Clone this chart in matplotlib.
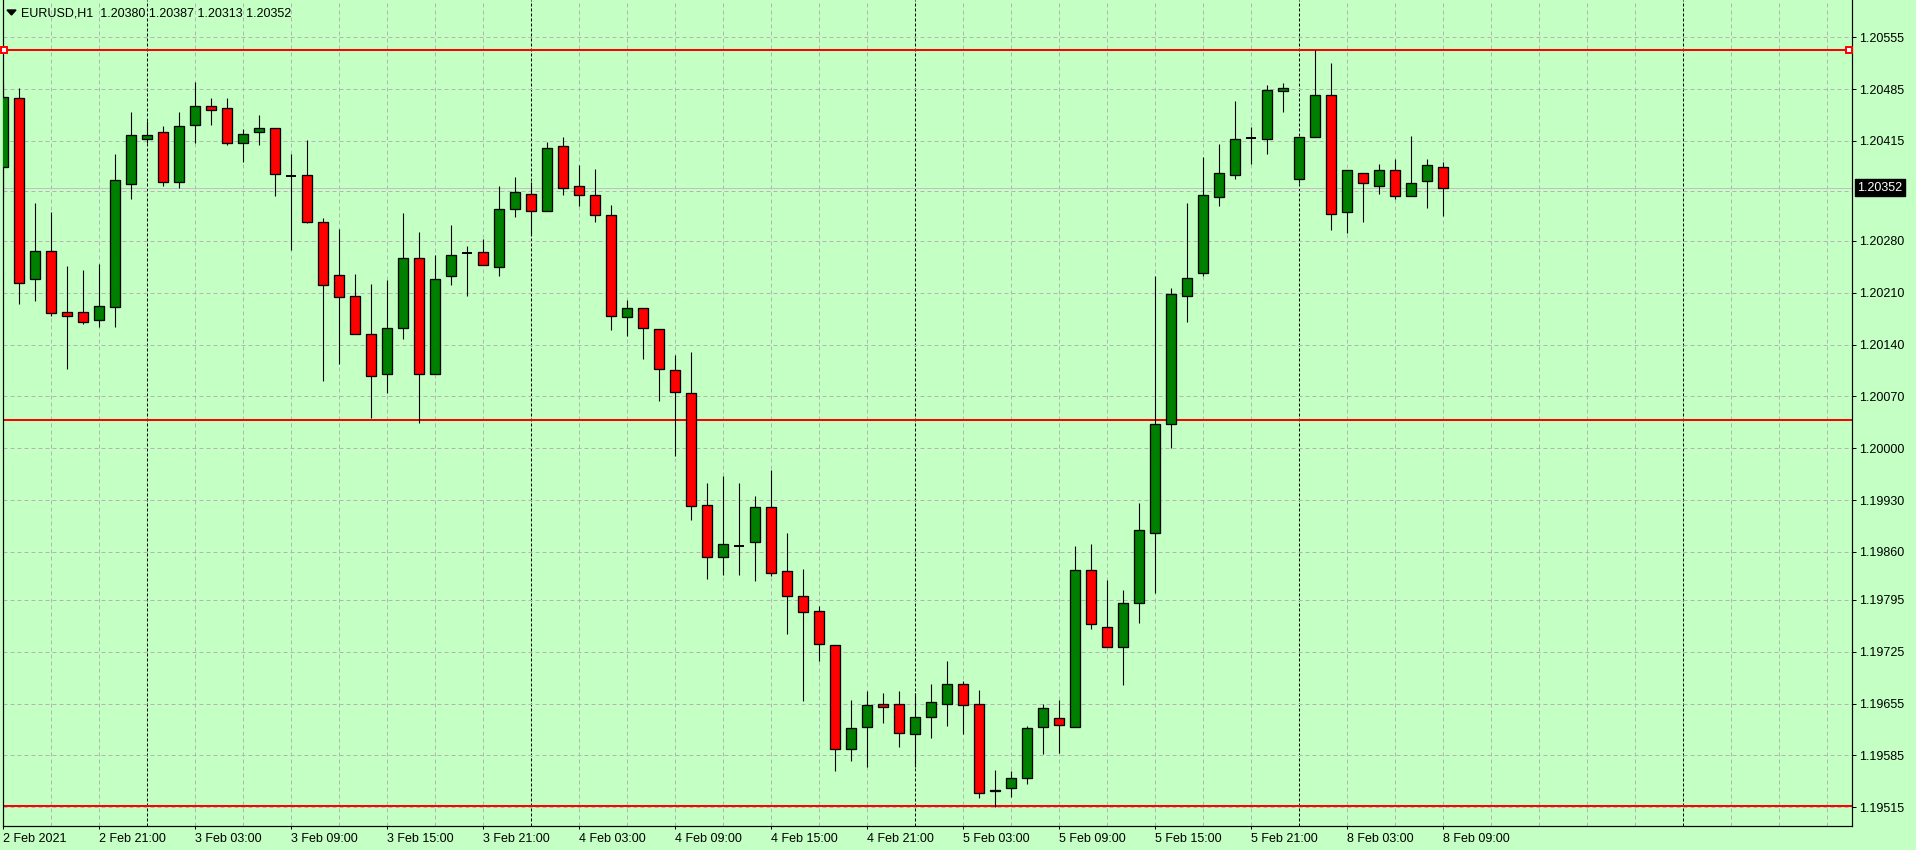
import matplotlib
matplotlib.use("Agg")
import matplotlib.pyplot as plt
import matplotlib.transforms as mtransforms
from matplotlib.patches import Polygon
import numpy as np
import pandas as pd

plt.rcParams["font.family"] = ["Liberation Sans", "DejaVu Sans"]

# EURUSD H1 bars, 2 Feb 2021 15:00 .. 8 Feb 2021 09:00
opens = [1.20380, 1.20473, 1.20229, 1.20266, 1.20184, 1.20184, 1.20173, 1.20191, 1.20357, 1.20418,
         1.20427, 1.20360, 1.20436, 1.20462, 1.20459, 1.20412, 1.20427, 1.20432, 1.20367, 1.20369,
         1.20306, 1.20234, 1.20205, 1.20154, 1.20100, 1.20162, 1.20257, 1.20100, 1.20232, 1.20264,
         1.20265, 1.20245, 1.20323, 1.20344, 1.20321, 1.20408, 1.20354, 1.20342, 1.20315, 1.20177,
         1.20189, 1.20161, 1.20105, 1.20074, 1.19923, 1.19853, 1.19868, 1.19873, 1.19921, 1.19834,
         1.19800, 1.19780, 1.19734, 1.19594, 1.19623, 1.19655, 1.19655, 1.19614, 1.19637, 1.19655,
         1.19681, 1.19655, 1.19537, 1.19541, 1.19555, 1.19623, 1.19635, 1.19624, 1.19836, 1.19759,
         1.19732, 1.19791, 1.19886, 1.20033, 1.20206, 1.20237, 1.20339, 1.20369, 1.20419, 1.20418,
         1.20482, 1.20364, 1.20421, 1.20477, 1.20319, 1.20372, 1.20354, 1.20376, 1.20341, 1.20361,
         1.20380]
highs = [1.20492, 1.20486, 1.20331, 1.20319, 1.20246, 1.20241, 1.20249, 1.20397, 1.20454, 1.20442,
         1.20435, 1.20454, 1.20495, 1.20473, 1.20473, 1.20431, 1.20450, 1.20432, 1.20397, 1.20416,
         1.20311, 1.20296, 1.20235, 1.20222, 1.20227, 1.20318, 1.20292, 1.20261, 1.20301, 1.20273,
         1.20283, 1.20354, 1.20366, 1.20360, 1.20413, 1.20420, 1.20383, 1.20377, 1.20329, 1.20200,
         1.20189, 1.20161, 1.20126, 1.20130, 1.19953, 1.19962, 1.19953, 1.19935, 1.19970, 1.19885,
         1.19837, 1.19787, 1.19734, 1.19660, 1.19672, 1.19670, 1.19672, 1.19670, 1.19682, 1.19713,
         1.19686, 1.19674, 1.19565, 1.19564, 1.19625, 1.19655, 1.19660, 1.19868, 1.19870, 1.19822,
         1.19808, 1.19926, 1.20232, 1.20216, 1.20331, 1.20394, 1.20411, 1.20469, 1.20434, 1.20490,
         1.20493, 1.20421, 1.20538, 1.20520, 1.20376, 1.20372, 1.20384, 1.20391, 1.20422, 1.20390,
         1.20387]
lows = [1.20340, 1.20195, 1.20199, 1.20178, 1.20107, 1.20168, 1.20164, 1.20164, 1.20336, 1.20412,
        1.20354, 1.20352, 1.20412, 1.20437, 1.20410, 1.20386, 1.20409, 1.20341, 1.20268, 1.20304,
        1.20091, 1.20114, 1.20154, 1.20041, 1.20075, 1.20147, 1.20034, 1.20100, 1.20220, 1.20206,
        1.20247, 1.20233, 1.20312, 1.20288, 1.20321, 1.20342, 1.20327, 1.20306, 1.20159, 1.20151,
        1.20120, 1.20064, 1.19990, 1.19903, 1.19824, 1.19829, 1.19829, 1.19821, 1.19827, 1.19749,
        1.19659, 1.19712, 1.19564, 1.19577, 1.19570, 1.19629, 1.19597, 1.19569, 1.19609, 1.19625,
        1.19614, 1.19528, 1.19516, 1.19529, 1.19546, 1.19587, 1.19589, 1.19624, 1.19756, 1.19731,
        1.19680, 1.19764, 1.19805, 1.20000, 1.20171, 1.20233, 1.20327, 1.20364, 1.20384, 1.20398,
        1.20454, 1.20358, 1.20421, 1.20295, 1.20291, 1.20306, 1.20343, 1.20337, 1.20340, 1.20325,
        1.20313]
closes = [1.20474, 1.20223, 1.20267, 1.20182, 1.20179, 1.20171, 1.20192, 1.20362, 1.20423, 1.20423,
          1.20359, 1.20435, 1.20462, 1.20457, 1.20412, 1.20425, 1.20432, 1.20370, 1.20367, 1.20306,
          1.20221, 1.20204, 1.20154, 1.20098, 1.20163, 1.20257, 1.20100, 1.20229, 1.20261, 1.20264,
          1.20247, 1.20323, 1.20346, 1.20321, 1.20406, 1.20351, 1.20342, 1.20315, 1.20178, 1.20189,
          1.20163, 1.20107, 1.20076, 1.19922, 1.19853, 1.19870, 1.19868, 1.19921, 1.19832, 1.19801,
          1.19779, 1.19735, 1.19594, 1.19622, 1.19653, 1.19651, 1.19615, 1.19637, 1.19657, 1.19681,
          1.19653, 1.19534, 1.19539, 1.19555, 1.19622, 1.19649, 1.19626, 1.19835, 1.19762, 1.19732,
          1.19791, 1.19889, 1.20033, 1.20208, 1.20230, 1.20342, 1.20372, 1.20418, 1.20419, 1.20484,
          1.20487, 1.20421, 1.20477, 1.20316, 1.20376, 1.20358, 1.20376, 1.20340, 1.20358, 1.20382,
          1.20352]

levels = [1.20538, 1.20038, 1.19517]
last_price = 1.20352

x_tick_labels = ["2 Feb 2021", "2 Feb 21:00", "3 Feb 03:00", "3 Feb 09:00", "3 Feb 15:00",
                 "3 Feb 21:00", "4 Feb 03:00", "4 Feb 09:00", "4 Feb 15:00", "4 Feb 21:00",
                 "5 Feb 03:00", "5 Feb 09:00", "5 Feb 15:00", "5 Feb 21:00", "8 Feb 03:00",
                 "8 Feb 09:00"]
y_tick_labels = ["1.20555", "1.20485", "1.20415", "1.20280", "1.20210", "1.20140", "1.20070",
                 "1.20000", "1.19930", "1.19860", "1.19795", "1.19725", "1.19655", "1.19585",
                 "1.19515"]
hidden_grid = [1.20347]  # grid row under the bid label

BG = "#c4ffc4"
GRID = "#b4b4b4"
PX = 0.72  # one pixel in points at 100 dpi

# hourly slots, trading days only (weekend gap)
slots = pd.date_range("2021-02-02 15:00", "2021-02-09 12:00", freq="h")
slots = slots[slots.weekday < 5][:116]

fig = plt.figure(figsize=(19.16, 8.5), dpi=100, facecolor=BG)
ax = fig.add_axes([2.5 / 1916, 24 / 850, (1852 - 2.5) / 1916, 826 / 850])
ax.set_facecolor(BG)

n = len(opens)
x = np.arange(n)
o = np.array(opens)
h = np.array(highs)
l = np.array(lows)
c = np.array(closes)

# grid
for k in range(0, len(slots), 3):
    if slots[k].hour != 0:
        ax.axvline(k, color=GRID, lw=PX, dashes=(4, 3), zorder=1)
for k in np.where(slots.hour == 0)[0]:
    ax.axvline(k, color="black", lw=PX, dashes=(3, 2), zorder=1)
y_ticks = [float(s) for s in y_tick_labels]
for yv in y_ticks + hidden_grid:
    ax.axhline(yv, color=GRID, lw=PX, dashes=(4, 3), zorder=1)

# bid line
ax.axhline(last_price, color="#c0c0c0", lw=PX, zorder=1.5)

# horizontal levels
for lv in levels:
    ax.axhline(lv, color="#ff0000", lw=2 * PX, zorder=2)
blend = mtransforms.blended_transform_factory(ax.transAxes, ax.transData)
ax.plot([0.001, 0.9985], [levels[0], levels[0]], ls="none", marker="s", ms=4.5,
        mfc="white", mec="#ff0000", mew=1.4, transform=blend, zorder=3, clip_on=False)

# candles
ax.vlines(x, l, h, color="black", lw=1.1 * PX, zorder=4)
up = c > o
down = c < o
flat = c == o
w = 0.62
ax.bar(x[up], (c - o)[up], bottom=o[up], width=w, color="#008000",
       edgecolor="black", linewidth=1.3 * PX, zorder=5)
ax.bar(x[down], (o - c)[down], bottom=c[down], width=w, color="#ff0000",
       edgecolor="black", linewidth=1.3 * PX, zorder=5)
ax.hlines(c[flat], x[flat] - w / 2, x[flat] + w / 2, color="black", lw=2 * PX, zorder=5)

ax.set_xlim(-0.05, 115.54)
ax.set_ylim(1.1948974, 1.2060538)

ax.set_xticks(np.arange(len(x_tick_labels)) * 6)
ax.set_xticklabels(x_tick_labels, ha="left")
ax.yaxis.tick_right()
ax.set_yticks(y_ticks)
ax.set_yticklabels(y_tick_labels)
ax.tick_params(axis="x", direction="out", length=3 * PX, width=PX, pad=3, labelsize=9)
ax.tick_params(axis="y", direction="out", length=4 * PX, width=PX, pad=2, labelsize=9)

for side in ["left", "right", "bottom"]:
    ax.spines[side].set_linewidth(1.2 * PX)
    ax.spines[side].set_color("black")
ax.spines["top"].set_visible(False)

# bid label
lbl_tr = mtransforms.offset_copy(blend, fig=fig, x=5, y=0, units="dots")
ax.text(1.0, last_price, f"{last_price:.5f}", transform=lbl_tr, ha="left", va="center",
        color="white", fontsize=9, zorder=6, clip_on=False,
        bbox=dict(boxstyle="square,pad=0.2", fc="black", ec="black"))

# header
tri = Polygon([[7, 850 - 10], [16, 850 - 10], [11.5, 850 - 15]], closed=True,
              color="black", transform=mtransforms.IdentityTransform())
fig.add_artist(tri)
fig.text(21 / 1916, 1 - 13 / 850,
         f"EURUSD,H1  {opens[-1]:.5f} {highs[-1]:.5f} {lows[-1]:.5f} {closes[-1]:.5f}",
         ha="left", va="center", fontsize=9, color="black")

fig.savefig("out.png", dpi=100, facecolor=BG)
